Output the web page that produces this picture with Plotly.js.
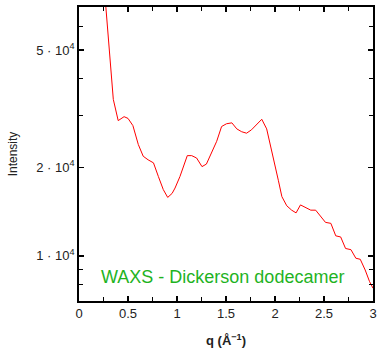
<!DOCTYPE html>
<html>
<head>
<meta charset="utf-8">
<script src="https://cdn.plot.ly/plotly-3.0.1.min.js"></script>
<style>html,body{margin:0;padding:0;background:#fff;}#chart{width:377px;height:348px;}</style>
</head>
<body>
<div id="chart"></div>
<script>
const q = [0.26, 0.35, 0.40, 0.46, 0.50, 0.55, 0.605, 0.655, 0.705, 0.76, 0.81, 0.86, 0.905, 0.95, 0.98, 1.03, 1.105, 1.15, 1.20, 1.255, 1.30, 1.355, 1.405, 1.455, 1.505, 1.56, 1.61, 1.66, 1.71, 1.76, 1.81, 1.865, 1.915, 1.965, 2.01, 2.035, 2.07, 2.12, 2.17, 2.215, 2.26, 2.31, 2.365, 2.415, 2.465, 2.515, 2.57, 2.62, 2.67, 2.72, 2.775, 2.825, 2.87, 2.92, 2.965, 3.0];
const intensity = [80000, 34000, 28800, 29700, 29300, 27700, 23900, 21800, 21200, 20700, 18600, 16800, 15800, 16300, 17000, 18600, 21900, 21900, 21500, 20100, 20500, 22400, 24500, 27500, 28100, 28300, 27000, 26400, 26100, 26800, 27900, 29100, 27000, 22900, 19900, 18000, 15900, 14800, 14300, 14000, 14900, 14600, 14300, 14300, 13600, 13000, 12900, 11700, 11600, 10600, 10500, 9820, 9740, 8960, 8180, 7770];
const yTickVals = [10000, 20000, 50000];
const yTickText = ['1 · 10<sup>4</sup>', '2 · 10<sup>4</sup>', '5 · 10<sup>4</sup>'];
const yMinorVals = [8000, 9000, 30000, 40000, 60000];
const xTickVals = [0, 0.5, 1, 1.5, 2, 2.5, 3];
const xTickText = ['0', '0.5', '1', '1.5', '2', '2.5', '3'];
const xMinorVals = [0.25, 0.75, 1.25, 1.75, 2.25, 2.75];
const label = 'WAXS - Dickerson dodecamer';

const font = 'Liberation Sans, Arial, sans-serif';
const trace = {x: q, y: intensity, type: 'scatter', mode: 'lines',
  line: {color: '#ff0000', width: 1}, hoverinfo: 'skip', cliponaxis: true};

const layout = {
  width: 377, height: 348,
  margin: {l: 79, r: 4, t: 7, b: 47},
  paper_bgcolor: '#fff', plot_bgcolor: '#fff',
  showlegend: false,
  font: {family: font, size: 13, color: '#222'},
  xaxis: {
    range: [0, 3], tickmode: 'array', tickvals: xTickVals, ticktext: xTickText,
    ticks: 'inside', ticklen: 5, tickwidth: 1.2, tickcolor: '#000',
    minor: {tickmode: 'array', tickvals: xMinorVals, ticks: 'inside', ticklen: 4, tickwidth: 1.2, tickcolor: '#000'},
    showline: true, linecolor: '#000', linewidth: 1.8, mirror: 'ticks',
    showgrid: false, zeroline: false,
    tickfont: {family: font, size: 13, color: '#222'},
    title: {text: '<b>q (Å<sup>−1</sup>)</b>', font: {family: font, size: 13, color: '#222'}, standoff: 16},
    automargin: false
  },
  yaxis: {
    type: 'log', range: [Math.log10(7030), Math.log10(70000)],
    tickmode: 'array', tickvals: yTickVals, ticktext: yTickText,
    ticks: 'inside', ticklen: 5, tickwidth: 1.2, tickcolor: '#000',
    minor: {tickmode: 'array', tickvals: yMinorVals, ticks: 'inside', ticklen: 4, tickwidth: 1.2, tickcolor: '#000'},
    showline: true, linecolor: '#000', linewidth: 1.8, mirror: 'ticks',
    showgrid: false, zeroline: false,
    tickfont: {family: font, size: 13, color: '#222'},
    title: {text: 'Intensity', font: {family: font, size: 12, color: '#222'}, standoff: 16},
    automargin: false
  },
  annotations: [{
    text: label, xref: 'x', yref: 'y', x: 1.46, y: Math.log10(8500),
    xanchor: 'center', yanchor: 'middle', showarrow: false,
    font: {family: font, size: 18, color: '#1fb31f'}
  }]
};
Plotly.newPlot('chart', [trace], layout, {staticPlot: true, displayModeBar: false});
</script>
</body>
</html>
